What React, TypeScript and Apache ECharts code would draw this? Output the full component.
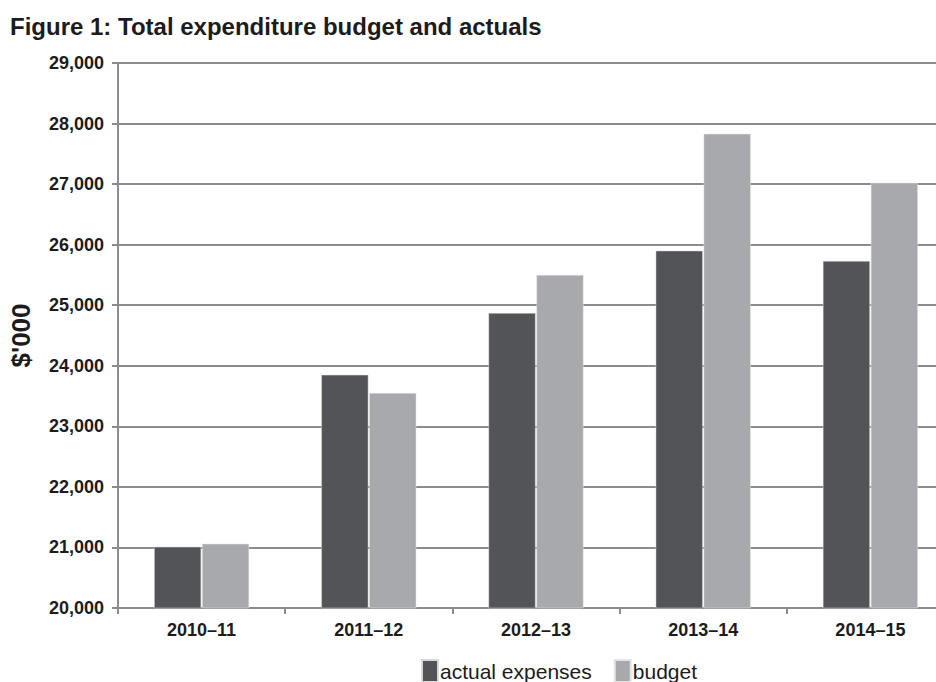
import React, { useEffect, useRef } from "react";
import * as echarts from "echarts";

const categories = ["2010–11", "2011–12", "2012–13", "2013–14", "2014–15"];
const actualExpenses = [21010, 23850, 24870, 25900, 25730];
const budget = [21060, 23550, 25500, 27830, 27020];
const seriesNames = ["actual expenses", "budget"];
const titleText = "Figure 1: Total expenditure budget and actuals";
const yAxisName = "$'000";

const FONT = "'Liberation Sans', Arial, sans-serif";
const TEXT = "#1d1b1c";
const GRID = "#8a8c8f";

export default function App() {
  const ref = useRef<HTMLDivElement>(null);
  useEffect(() => {
    if (!ref.current) return;
    const chart = echarts.init(ref.current, undefined, { renderer: "svg" });
    chart.setOption({
      animation: false,
      backgroundColor: "#ffffff",
      title: {
        text: titleText,
        left: 10,
        top: 14,
        padding: 0,
        textStyle: { fontFamily: FONT, fontSize: 24, fontWeight: "bold", color: TEXT },
      },
      legend: {
        left: 421,
        top: 659,
        padding: 0,
        itemWidth: 16,
        itemHeight: 22,
        itemGap: 22,
        icon: "rect",
        data: seriesNames,
        textStyle: { fontFamily: FONT, fontSize: 21, color: TEXT, padding: [0, 0, 0, -3] },
      },
      grid: { left: 116, right: 0, top: 63, bottom: 74, containLabel: false },
      xAxis: {
        type: "category",
        data: categories,
        axisLine: { lineStyle: { color: GRID, width: 2 } },
        axisTick: { show: true, length: 6, lineStyle: { color: GRID, width: 2 } },
        axisLabel: { fontFamily: FONT, fontSize: 18, fontWeight: "bold", color: TEXT, margin: 13 },
      },
      yAxis: {
        type: "value",
        min: 20000,
        max: 29000,
        interval: 1000,
        name: yAxisName,
        nameLocation: "middle",
        nameRotate: 90,
        nameGap: 84,
        nameTextStyle: { fontFamily: FONT, fontSize: 26, fontWeight: "bold", color: TEXT },
        axisLine: { show: true, lineStyle: { color: GRID, width: 2 } },
        axisTick: { show: true, length: 6, lineStyle: { color: GRID, width: 2 } },
        splitLine: { show: true, lineStyle: { color: GRID, width: 2 } },
        axisLabel: {
          fontFamily: FONT,
          fontSize: 18,
          fontWeight: "bold",
          color: TEXT,
          margin: 14,
          formatter: (v: number) => v.toLocaleString("en-US"),
        },
      },
      series: [
        {
          name: seriesNames[0],
          type: "bar",
          data: actualExpenses,
          barWidth: 47,
          barGap: "2%",
          itemStyle: { color: "#535458", borderColor: "#d8d8d8", borderWidth: 0.5 },
        },
        {
          name: seriesNames[1],
          type: "bar",
          data: budget,
          barWidth: 47,
          barGap: "2%",
          itemStyle: { color: "#a8a9ac", borderColor: "#e4e4e4", borderWidth: 0.5 },
        },
      ],
    });
    return () => chart.dispose();
  }, []);
  return (
    <div style={{ position: "fixed", left: 0, top: 0, width: 936, height: 682, overflow: "hidden" }}>
      <div ref={ref} style={{ width: 954, height: 682 }} />
    </div>
  );
}
